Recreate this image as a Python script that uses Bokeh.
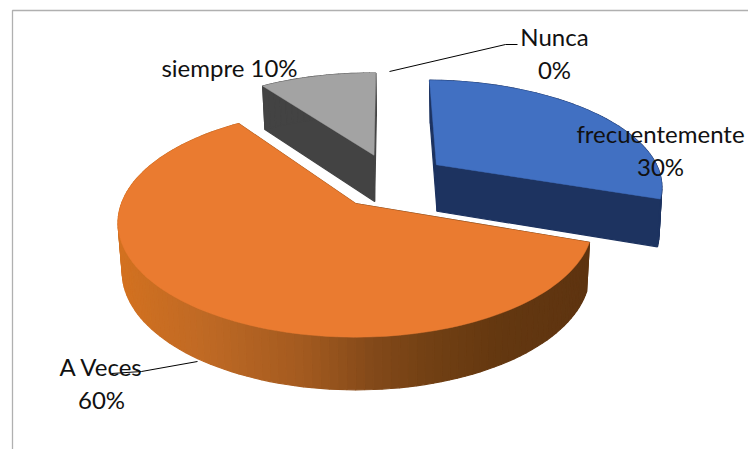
import numpy as np
from bokeh.plotting import figure
from bokeh.models import Range1d, ColumnDataSource
from bokeh.core.properties import value
from bokeh.embed import file_html
from bokeh.resources import INLINE

categories = ["frecuentemente", "A Veces", "siempre", "Nunca"]
percents = [30, 60, 10, 0]
top_colors = ["#4170c2", "#ea7b30", "#a3a3a3", "#ffc000"]
side_colors = ["#1d3360", None, "#434343", "#7f6000"]
explode = [(86, 87), (0, 0), (20, 110), (0, 0)]

# projection of the tilted pie
CX, CY, R, T, K, DEPTH, ROT = 355.0, 203.0, 234.0, 0.474, 0.17, 48.0, 1.3
orange_x = [115, 200, 300, 370, 430, 500, 595]
orange_r = [0xd4, 0xc0, 0xa4, 0x84, 0x72, 0x64, 0x5e]
orange_g = [0x72, 0x6a, 0x5b, 0x4a, 0x40, 0x38, 0x34]
orange_b = [0x20, 0x25, 0x20, 0x1a, 0x14, 0x10, 0x10]

W, H = 748, 449
p = figure(width=W, height=H, output_backend="svg", toolbar_location=None,
           x_range=Range1d(0, W), y_range=Range1d(H, 0),
           min_border=0, outline_line_color=None)
p.axis.visible = False
p.grid.visible = False
p.background_fill_color = "white"


def project(u, v):
    s = 1.0 / (1.0 + K * v / R)
    x = CX + u * s
    y = CY - T * v * s
    return x, y, s


def lower(x, y, s, c):
    return c + (x - c) * 0.985, y + DEPTH * np.sqrt(s)


def outline(i):
    start = ROT + 3.6 * sum(percents[:i])
    end = start + 3.6 * percents[i]
    th = np.radians(np.linspace(start, end, max(2, int(percents[i] * 2))))
    u0, v0 = explode[i]
    return u0 + R * np.sin(th), v0 + R * np.cos(th), u0, v0


def orange_shade(x):
    return "#%02x%02x%02x" % (int(np.interp(x, orange_x, orange_r)),
                              int(np.interp(x, orange_x, orange_g)),
                              int(np.interp(x, orange_x, orange_b)))


for i in [2, 0, 1]:
    ru, rv, u0, v0 = outline(i)
    us = np.r_[u0, ru]
    vs = np.r_[v0, rv]
    x, y, s = project(us, vs)
    lx, ly = lower(x, y, s, x[0] + 40)
    xs, ys, cs = [], [], []
    n = len(x)
    for a in range(n):
        b = (a + 1) % n
        xs.append([x[a], x[b], lx[b], lx[a]])
        ys.append([y[a], y[b], ly[b], ly[a]])
        cs.append(side_colors[i] or orange_shade((x[a] + x[b]) / 2))
    p.patches(xs="xs", ys="ys", fill_color="c", line_color="c", line_width=1.2,
              source=ColumnDataSource(dict(xs=xs, ys=ys, c=cs)))
    p.patch(x, y, fill_color=top_colors[i], line_color=top_colors[i], line_width=0.5)

# frame
frame_x = [12, 12, W]
frame_y = [H, 10, 10]
p.line(frame_x, frame_y, line_color="#b0b0b0", line_width=1.3)

# leaders
p.line([389, 505, 517], [71, 44, 44], line_color="black", line_width=1)
p.line([197, 141, 111], [361, 371, 373], line_color="black", line_width=1)

FONT = value("Lato")
labels = [
    (660, 133, categories[0]), (660, 166, f"{percents[0]}%"),
    (101, 366, categories[1]), (101, 399, f"{percents[1]}%"),
    (229, 67, f"{categories[2]} {percents[2]}%"),
    (554, 36, categories[3]), (554, 69, f"{percents[3]}%"),
]
p.text(x=[l[0] for l in labels], y=[l[1] for l in labels], text=[l[2] for l in labels],
       text_font=FONT, text_font_size="24px", text_align="center",
       text_baseline="middle", text_color="#111111")

open("out.html", "w").write(file_html(p, INLINE))
